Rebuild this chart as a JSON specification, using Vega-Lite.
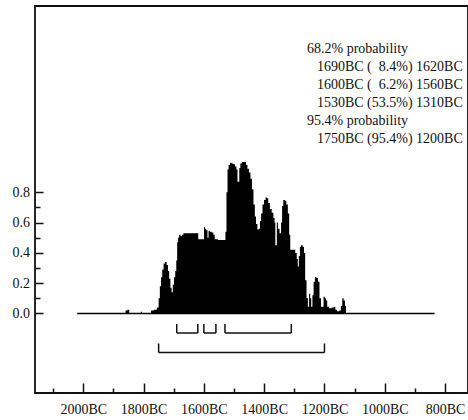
{
  "$schema": "https://vega.github.io/schema/vega-lite/v6.json",
  "width": 433,
  "height": 387,
  "autosize": {"type": "none"},
  "padding": {"left": 35, "top": 6, "right": 0, "bottom": 27},
  "background": "white",
  "config": {
    "view": {"stroke": "#111", "strokeWidth": 1.8},
    "font": "Liberation Serif",
    "axis": {
      "labelFont": "Liberation Serif",
      "labelFontSize": 14,
      "labelColor": "#111",
      "tickColor": "#111",
      "tickWidth": 1.5,
      "domain": false,
      "grid": false,
      "title": null,
      "labelOverlap": false,
      "labelFlush": false,
      "labelBound": false
    }
  },
  "datasets": {
    "density": [
      {"year": -1862, "p": 0}, {"year": -1857, "p": 0.02}, {"year": -1850, "p": 0.025}, {"year": -1845, "p": 0},
      {"year": -1811, "p": 0}, {"year": -1807, "p": 0.012}, {"year": -1803, "p": 0},
      {"year": -1778, "p": 0}, {"year": -1772, "p": 0.02}, {"year": -1760, "p": 0.025},
      {"year": -1752, "p": 0.04}, {"year": -1748, "p": 0.1}, {"year": -1744, "p": 0.18},
      {"year": -1740, "p": 0.24}, {"year": -1736, "p": 0.29}, {"year": -1731, "p": 0.33},
      {"year": -1726, "p": 0.34}, {"year": -1721, "p": 0.32}, {"year": -1717, "p": 0.28},
      {"year": -1713, "p": 0.23}, {"year": -1709, "p": 0.17}, {"year": -1705, "p": 0.14},
      {"year": -1701, "p": 0.19}, {"year": -1697, "p": 0.24}, {"year": -1693, "p": 0.28},
      {"year": -1690, "p": 0.35}, {"year": -1687, "p": 0.47}, {"year": -1684, "p": 0.5},
      {"year": -1680, "p": 0.52}, {"year": -1675, "p": 0.51}, {"year": -1670, "p": 0.52},
      {"year": -1665, "p": 0.53}, {"year": -1640, "p": 0.53}, {"year": -1620, "p": 0.53},
      {"year": -1617, "p": 0.49}, {"year": -1605, "p": 0.49}, {"year": -1601, "p": 0.49},
      {"year": -1598, "p": 0.57}, {"year": -1594, "p": 0.56}, {"year": -1590, "p": 0.55},
      {"year": -1586, "p": 0.5}, {"year": -1583, "p": 0.545}, {"year": -1578, "p": 0.54},
      {"year": -1571, "p": 0.535}, {"year": -1566, "p": 0.52}, {"year": -1562, "p": 0.49},
      {"year": -1545, "p": 0.485}, {"year": -1530, "p": 0.485}, {"year": -1527, "p": 0.54},
      {"year": -1523, "p": 0.8}, {"year": -1520, "p": 0.95}, {"year": -1516, "p": 0.98},
      {"year": -1511, "p": 0.995}, {"year": -1505, "p": 0.99}, {"year": -1499, "p": 0.985},
      {"year": -1494, "p": 0.97}, {"year": -1490, "p": 0.95}, {"year": -1487, "p": 0.87},
      {"year": -1484, "p": 0.87}, {"year": -1481, "p": 0.96}, {"year": -1477, "p": 0.99},
      {"year": -1470, "p": 1.0}, {"year": -1462, "p": 1.0}, {"year": -1458, "p": 0.98},
      {"year": -1453, "p": 0.955}, {"year": -1448, "p": 0.93}, {"year": -1443, "p": 0.89},
      {"year": -1438, "p": 0.82}, {"year": -1433, "p": 0.72}, {"year": -1429, "p": 0.64},
      {"year": -1425, "p": 0.59}, {"year": -1420, "p": 0.555}, {"year": -1416, "p": 0.56},
      {"year": -1412, "p": 0.61}, {"year": -1408, "p": 0.66}, {"year": -1403, "p": 0.72},
      {"year": -1398, "p": 0.75}, {"year": -1393, "p": 0.765}, {"year": -1389, "p": 0.76},
      {"year": -1384, "p": 0.73}, {"year": -1378, "p": 0.69}, {"year": -1372, "p": 0.665},
      {"year": -1367, "p": 0.63}, {"year": -1364, "p": 0.6}, {"year": -1362, "p": 0.45},
      {"year": -1359, "p": 0.45}, {"year": -1357, "p": 0.6}, {"year": -1352, "p": 0.56},
      {"year": -1346, "p": 0.53}, {"year": -1342, "p": 0.6}, {"year": -1339, "p": 0.71},
      {"year": -1334, "p": 0.75}, {"year": -1329, "p": 0.745}, {"year": -1324, "p": 0.72},
      {"year": -1319, "p": 0.66}, {"year": -1315, "p": 0.52}, {"year": -1312, "p": 0.42},
      {"year": -1300, "p": 0.42}, {"year": -1294, "p": 0.4}, {"year": -1290, "p": 0.36},
      {"year": -1287, "p": 0.31}, {"year": -1283, "p": 0.38}, {"year": -1280, "p": 0.44},
      {"year": -1275, "p": 0.45}, {"year": -1270, "p": 0.44}, {"year": -1266, "p": 0.4},
      {"year": -1262, "p": 0.22}, {"year": -1257, "p": 0.1}, {"year": -1253, "p": 0.045},
      {"year": -1249, "p": 0.13}, {"year": -1246, "p": 0.1}, {"year": -1242, "p": 0.045},
      {"year": -1238, "p": 0.12}, {"year": -1234, "p": 0.21}, {"year": -1229, "p": 0.24},
      {"year": -1224, "p": 0.235}, {"year": -1219, "p": 0.21}, {"year": -1214, "p": 0.1},
      {"year": -1209, "p": 0.045}, {"year": -1205, "p": 0.045}, {"year": -1201, "p": 0.11},
      {"year": -1197, "p": 0.1}, {"year": -1193, "p": 0.085}, {"year": -1189, "p": 0.045},
      {"year": -1180, "p": 0.035}, {"year": -1172, "p": 0.04}, {"year": -1166, "p": 0.045},
      {"year": -1162, "p": 0.025}, {"year": -1155, "p": 0.015}, {"year": -1148, "p": 0.02},
      {"year": -1143, "p": 0.05}, {"year": -1139, "p": 0.1}, {"year": -1134, "p": 0.085},
      {"year": -1130, "p": 0.05}, {"year": -1127, "p": 0}
    ],
    "span": [{"start": -2020, "end": -835}],
    "ranges": [
      {"prob": 68.2, "from": -1690, "to": -1620},
      {"prob": 68.2, "from": -1600, "to": -1560},
      {"prob": 68.2, "from": -1530, "to": -1310},
      {"prob": 95.4, "from": -1750, "to": -1200}
    ],
    "summary": [
      {"row": 1, "kind": "head", "text": "68.2% probability"},
      {"row": 2, "kind": "range", "text": "1690BC (\u20078.4%) 1620BC"},
      {"row": 3, "kind": "range", "text": "1600BC (\u20076.2%) 1560BC"},
      {"row": 4, "kind": "range", "text": "1530BC (53.5%) 1310BC"},
      {"row": 5, "kind": "head", "text": "95.4% probability"},
      {"row": 6, "kind": "range", "text": "1750BC (95.4%) 1200BC"}
    ]
  },
  "layer": [
    {
      "layer": [
        {
          "data": {"name": "density"},
          "mark": {"type": "area", "color": "black", "interpolate": "step"},
          "encoding": {
            "x": {
              "field": "year",
              "type": "quantitative",
              "scale": {"domain": [-2160, -724], "nice": false, "zero": false},
              "axis": {
                "orient": "bottom",
                "values": [-2000, -1800, -1600, -1400, -1200, -1000, -800],
                "labelExpr": "abs(datum.value) + 'BC'",
                "tickSize": -10,
                "labelPadding": 19
              }
            },
            "y": {
              "field": "p",
              "type": "quantitative",
              "scale": {"domain": [-0.525, 2.03], "nice": false, "zero": false},
              "axis": {
                "orient": "left",
                "values": [0, 0.2, 0.4, 0.6, 0.8],
                "format": ".1f",
                "tickSize": -8,
                "labelPadding": 13.5
              }
            },
            "y2": {"datum": 0}
          }
        },
        {
          "data": {"name": "span"},
          "mark": {"type": "rule", "color": "black", "strokeWidth": 1.5},
          "encoding": {
            "x": {
              "field": "start",
              "type": "quantitative",
              "axis": {
                "orient": "bottom",
                "values": [-2100, -1900, -1700, -1500, -1300, -1100, -900],
                "labels": false,
                "tickSize": -5
              }
            },
            "x2": {"field": "end"},
            "y": {
              "datum": 0,
              "axis": {
                "orient": "left",
                "values": [0.1, 0.3, 0.5, 0.7],
                "labels": false,
                "tickSize": -5
              }
            }
          }
        }
      ],
      "resolve": {"axis": {"x": "independent", "y": "independent"}}
    },
    {
      "data": {"name": "ranges"},
      "encoding": {
        "y": {
          "field": "prob",
          "type": "quantitative",
          "scale": {"domain": [68.2, 95.4], "range": [327, 346.5]},
          "axis": null
        }
      },
      "layer": [
        {
          "mark": {"type": "rule", "color": "#111", "strokeWidth": 1.5},
          "encoding": {"x": {"field": "from", "type": "quantitative", "axis": null}, "x2": {"field": "to"}}
        },
        {
          "mark": {"type": "rule", "color": "#111", "strokeWidth": 1.5, "y2Offset": -9},
          "encoding": {"x": {"field": "from", "type": "quantitative", "axis": null}, "y2": {"field": "prob"}}
        },
        {
          "mark": {"type": "rule", "color": "#111", "strokeWidth": 1.5, "y2Offset": -9},
          "encoding": {"x": {"field": "to", "type": "quantitative", "axis": null}, "y2": {"field": "prob"}}
        }
      ]
    },
    {
      "data": {"name": "summary"},
      "encoding": {
        "y": {
          "field": "row",
          "type": "quantitative",
          "scale": {"domain": [1, 6], "range": [43, 133]},
          "axis": null
        },
        "text": {"field": "text"}
      },
      "layer": [
        {
          "transform": [{"filter": "datum.kind == 'head'"}],
          "mark": {"type": "text", "align": "left", "baseline": "middle", "font": "Liberation Serif", "fontSize": 14, "color": "#111"},
          "encoding": {"x": {"datum": -1258, "axis": null}}
        },
        {
          "transform": [{"filter": "datum.kind == 'range'"}],
          "mark": {"type": "text", "align": "left", "baseline": "middle", "font": "Liberation Serif", "fontSize": 14, "color": "#111"},
          "encoding": {"x": {"datum": -1225, "axis": null}}
        }
      ]
    }
  ],
  "resolve": {"scale": {"y": "independent"}, "axis": {"x": "independent", "y": "independent"}}
}
